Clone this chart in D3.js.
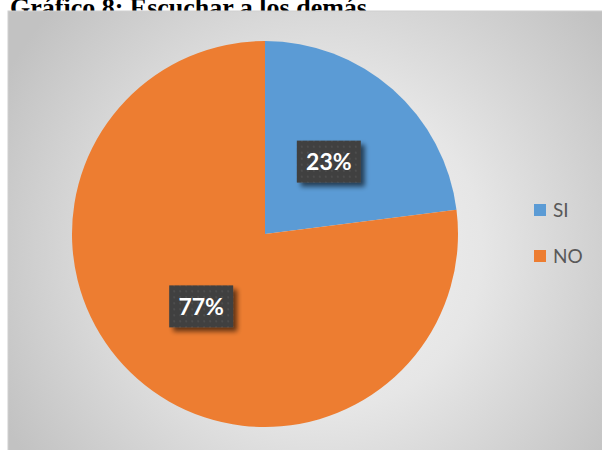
<!DOCTYPE html>
<html><head><meta charset="utf-8">
<script src="https://cdn.jsdelivr.net/npm/d3@7"></script>
<style>body{margin:0;background:#fff;overflow:hidden}svg{display:block}</style>
</head><body>
<svg id="c" width="602" height="450"></svg>
<script>
const categories = ["SI", "NO"];
const values = [23, 77];
const labels = ["23%", "77%"];
const colors = ["#5B9BD5", "#ED7D31"];
const title = "Gráfico 8: Escuchar a los demás";

const svg = d3.select("#c");
const defs = svg.append("defs");

// title (partially hidden behind chart area, as in the reference)
svg.append("text").attr("x", 10).attr("y", 16)
  .attr("font-family", "Liberation Serif, Times New Roman, serif")
  .attr("font-weight", "bold").attr("font-size", 26).attr("fill", "#000")
  .text(title);

// background radial gradient
const rg = defs.append("radialGradient").attr("id", "bg")
  .attr("gradientUnits", "userSpaceOnUse")
  .attr("cx", 320).attr("cy", 250).attr("r", 360);
rg.append("stop").attr("offset", "0%").attr("stop-color", "#f4f4f4");
rg.append("stop").attr("offset", "45%").attr("stop-color", "#e6e6e6");
rg.append("stop").attr("offset", "100%").attr("stop-color", "#c2c2c2");

svg.append("rect").attr("x", 8).attr("y", 11).attr("width", 600).attr("height", 445)
  .attr("fill", "url(#bg)").attr("stroke", "#d0d0d0").attr("stroke-width", 1);

// shadow filter for labels
const f = defs.append("filter").attr("id", "sh").attr("x", "-30%").attr("y", "-30%").attr("width", "160%").attr("height", "160%");
f.append("feGaussianBlur").attr("in", "SourceAlpha").attr("stdDeviation", 2.5).attr("result", "b");
f.append("feOffset").attr("in", "b").attr("dx", 4).attr("dy", 4).attr("result", "o");
f.append("feComponentTransfer").attr("in", "o").attr("result", "o2")
  .append("feFuncA").attr("type", "linear").attr("slope", 0.6);
const fm = f.append("feMerge");
fm.append("feMergeNode").attr("in", "o2");
fm.append("feMergeNode").attr("in", "SourceGraphic");

// dot pattern for label boxes
const pat = defs.append("pattern").attr("id", "dots").attr("patternUnits", "userSpaceOnUse")
  .attr("width", 6).attr("height", 6);
pat.append("rect").attr("width", 6).attr("height", 6).attr("fill", "#3f3f3f");
pat.append("rect").attr("x", 2).attr("y", 2).attr("width", 2).attr("height", 2).attr("fill", "#4d4d4d");

const cx = 265, cy = 234, R = 193;
const pie = d3.pie().sort(null).value(d => d)(values);
const arc = d3.arc().innerRadius(0).outerRadius(R);
const labelArc = d3.arc().innerRadius(R * 0.5).outerRadius(R * 0.5);

const g = svg.append("g").attr("transform", `translate(${cx},${cy})`);
g.selectAll("path.slice").data(pie).enter().append("path")
  .attr("class", "slice").attr("d", arc).attr("fill", (d, i) => colors[i]);

const lg = g.selectAll("g.lab").data(pie).enter().append("g")
  .attr("transform", d => `translate(${labelArc.centroid(d)})`);
lg.append("rect").attr("x", -32).attr("y", -21).attr("width", 64).attr("height", 42)
  .attr("fill", "url(#dots)").attr("filter", "url(#sh)");
lg.append("text").attr("text-anchor", "middle").attr("dy", "0.36em")
  .attr("font-family", "Lato, Open Sans, sans-serif").attr("font-weight", "bold")
  .attr("font-size", 23).attr("fill", "#fff")
  .text((d, i) => labels[i]);

// legend
const leg = svg.append("g").selectAll("g").data(categories).enter().append("g")
  .attr("transform", (d, i) => `translate(534,${204 + i * 46})`);
leg.append("rect").attr("width", 12).attr("height", 12).attr("fill", (d, i) => colors[i]);
leg.append("text").attr("x", 19).attr("y", 6).attr("dy", "0.36em")
  .attr("font-family", "Lato, Open Sans, sans-serif").attr("font-size", 19).attr("fill", "#595959")
  .text(d => d);
</script>
</body></html>
